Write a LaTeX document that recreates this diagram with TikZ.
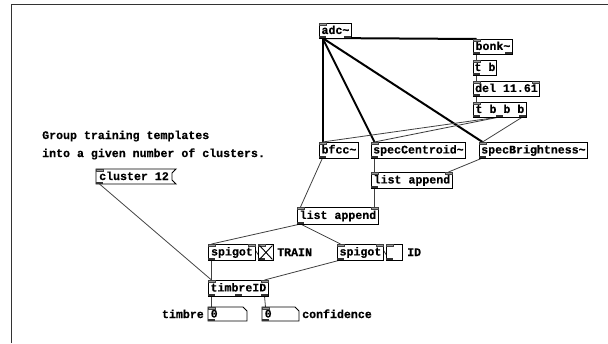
\documentclass[tikz,border=0pt]{standalone}
\usepackage{fontspec}
\newfontfamily\pdfont[BoldFeatures={FakeBold=0.4}]{Liberation Mono}
\usetikzlibrary{backgrounds}

\tikzset{
  pdfontstyle/.style={font=\pdfont\bfseries\fontsize{11.6}{13}\selectfont},
  pdobj/.style={draw=black, line width=0.9pt, fill=white, inner sep=0pt,
                text height=8.5pt, text depth=2.5pt, pdfontstyle},
  pdshape/.style={draw=black, line width=0.9pt, fill=white},
  pdtext/.style={inner sep=0pt, pdfontstyle},
  inport/.style={fill=black!40, draw=black!75, line width=0.4pt},
  outport/.style={fill=black!80},
  sig/.style={line width=2pt, black},
  ctl/.style={line width=0.8pt, black!75},
}

% inlets along the top edge, outlets along the bottom edge
\newcommand\pdports[7]{%
  \foreach \k in {1,...,#6}{%
    \pgfmathsetmacro\px{#2+(\k-1)*(#4-#2-7)/max(#6-1,1)}%
    \draw[inport] (\px,#3) rectangle ++(7,2.5);
    \coordinate (#1-i\k) at (\px+3.5,#3);
  }%
  \foreach \k in {1,...,#7}{%
    \pgfmathsetmacro\px{#2+(\k-1)*(#4-#2-7)/max(#7-1,1)}%
    \fill[outport] (\px,#5-2.5) rectangle ++(7,2.5);
    \coordinate (#1-o\k) at (\px+3.5,#5);
  }%
}

% object box: name, x1, y1, x2, y2, text, inlets, outlets
\newcommand\pdbox[8]{%
  \node[pdobj, anchor=north west, minimum width={(#4-#2)*1pt},
        minimum height={(#5-#3)*1pt}] (#1) at (#2,#3) {#6};
  \pdports{#1}{#2}{#3}{#4}{#5}{#7}{#8}%
}

% number box: name, x1, y1, x2, y2
\newcommand\pdnum[5]{%
  \path[pdshape] (#2,#3) -- (#4-4,#3) -- (#4,#3+4) -- (#4,#5) -- (#2,#5) -- cycle;
  \node[pdtext, anchor=base west] (#1) at (#2+2.5,#5-3.5) {0};
  \pdports{#1}{#2}{#3}{#4}{#5}{1}{1}%
}

% toggle: name, x1, y1, x2, y2
\newcommand\pdtoggle[5]{%
  \node[pdobj, anchor=north west, minimum width={(#4-#2)*1pt},
        minimum height={(#5-#3)*1pt}] (#1) at (#2,#3) {};
  \pdports{#1}{#2}{#3}{#4}{#5}{1}{1}%
}

\begin{document}
\begin{tikzpicture}[x=1pt, y=-1pt]
\useasboundingbox (0,0) rectangle (608,343);

% canvas frame
\draw[line width=1.3pt, black!80] (11.5,343) -- (11.5,4.5) -- (608,4.5);

% comment
\node[pdtext, anchor=base west] (c1) at (42,139) {Group training templates};
\node[pdtext, anchor=base west] (c2) at (42,157) {into a given number of clusters.};

% analysis chain
\pdbox{adc}{319}{23}{351}{38}{adc\char`\~}{1}{2}
\pdbox{bonk}{473}{39}{512}{54}{bonk\char`\~}{1}{2}
\pdbox{tb}{473}{60}{496}{75}{t b}{1}{1}
\pdbox{del}{473}{81}{539}{96}{del 11.61}{2}{1}
\pdbox{tbbb}{473}{102}{526}{117}{t b b b}{1}{3}
\pdbox{bfcc}{319}{142}{358}{158}{bfcc\char`\~}{1}{1}
\pdbox{cent}{371}{142}{465}{158}{specCentroid\char`\~}{1}{1}
\pdbox{bright}{479}{142}{587}{158}{specBrightness\char`\~}{1}{1}
\pdbox{listA}{371}{172}{452}{188}{list append}{2}{1}
\pdbox{listB}{297}{207}{378}{224}{list append}{2}{1}

% gates
\pdbox{spigL}{208}{244}{255}{260}{spigot}{2}{1}
\pdtoggle{togL}{258}{244}{273}{260}
\draw[line width=0.9pt] ([shift={(1.5pt,-1.5pt)}]togL.north west) -- ([shift={(-1.5pt,1.5pt)}]togL.south east)
                        ([shift={(-1.5pt,-1.5pt)}]togL.north east) -- ([shift={(1.5pt,1.5pt)}]togL.south west);
\node[pdtext, anchor=base west] (train) at (277,256) {TRAIN};
\pdbox{spigR}{337}{244}{383}{260}{spigot}{2}{1}
\pdtoggle{togR}{386}{244}{402}{260}
\node[pdtext, anchor=base west] (idlbl) at (407,256) {ID};

% classifier
\pdbox{tid}{208}{280}{268}{296}{timbreID}{2}{3}

% message box
\path[pdshape] (96,169) -- (176,169) -- (172,173) -- (172,180) -- (176,184) -- (96,184) -- cycle;
\node[pdtext, anchor=base west] (cluster) at (99,180) {cluster 12};
\pdports{cluster}{96}{169}{172}{184}{1}{1}

% outputs
\pdnum{numA}{208}{307}{247}{321}
\pdnum{numB}{262}{307}{299}{321}
\node[pdtext, anchor=base east] (timbrelbl) at (204,318) {timbre};
\node[pdtext, anchor=base west] (conflbl) at (302,318) {confidence};

% connections
\begin{scope}[on background layer]
  \draw[sig] (adc-o1) -- (bonk-i1);
  \draw[sig] (adc-o1) -- (bfcc-i1);
  \draw[sig] (adc-o1) -- (cent-i1);
  \draw[sig] (adc-o1) -- (bright-i1);
  \draw[ctl] (bonk-o1) -- (tb-i1);
  \draw[ctl] (tb-o1) -- (del-i1);
  \draw[ctl] (del-o1) -- (tbbb-i1);
  \draw[ctl] (tbbb-o2) -- (bfcc-i1);
  \draw[ctl] (tbbb-o2) -- (cent-i1);
  \draw[ctl] (tbbb-o3) -- (bright-i1);
  \draw[ctl] (bfcc-o1) -- (listB-i1);
  \draw[ctl] (cent-o1) -- (listA-i1);
  \draw[ctl] (bright-o1) -- (listA-i2);
  \draw[ctl] (listA-o1) -- (listB-i2);
  \draw[ctl] (listB-o1) -- (spigL-i1);
  \draw[ctl] (listB-o1) -- (spigR-i1);
  \draw[ctl] (togL-o1) -- (spigL-i2);
  \draw[ctl] (togR-o1) -- (spigR-i2);
  \draw[ctl] (spigL-o1) -- (tid-i1);
  \draw[ctl] (spigR-o1) -- (tid-i2);
  \draw[ctl] (cluster-o1) -- (tid-i1);
  \draw[ctl] (tid-o1) -- (numA-i1);
  \draw[ctl] (tid-o3) -- (numB-i1);
\end{scope}
\end{tikzpicture}
\end{document}
